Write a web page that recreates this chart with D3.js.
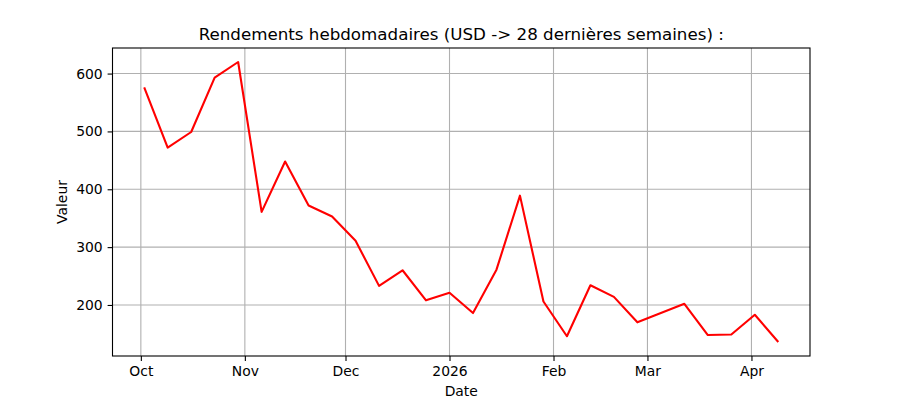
<!DOCTYPE html>
<html>
<head>
<meta charset="utf-8">
<script src="https://cdn.jsdelivr.net/npm/d3@7"></script>
<style>
  body { margin: 0; background: #fff; }
  svg { display: block; font-family: "DejaVu Sans", sans-serif; }
</style>
</head>
<body>
<svg id="chart" width="900" height="400"></svg>
<script>
const dates = ["2025-10-02","2025-10-09","2025-10-16","2025-10-23","2025-10-30",
  "2025-11-06","2025-11-13","2025-11-20","2025-11-27","2025-12-04","2025-12-11",
  "2025-12-18","2025-12-25","2026-01-01","2026-01-08","2026-01-15","2026-01-22",
  "2026-01-29","2026-02-05","2026-02-12","2026-02-19","2026-02-26","2026-03-05",
  "2026-03-12","2026-03-19","2026-03-26","2026-04-02","2026-04-09"];
const values = [576, 472, 499, 593, 620, 361, 448, 372, 353, 311, 233, 260, 208, 221,
  186, 261, 389, 206, 146, 234, 214, 170, 186, 202, 148, 149, 183, 136];
const xTickDates = ["2025-10-01","2025-11-01","2025-12-01","2026-01-01","2026-02-01","2026-03-01","2026-04-01"];
const xTickLabels = ["Oct","Nov","Dec","2026","Feb","Mar","Apr"];
const yTicks = [200, 300, 400, 500, 600];
const title = "Rendements hebdomadaires (USD -> 28 dernières semaines) :";
const xLabel = "Date";
const yLabel = "Valeur";

const parse = d3.utcParse("%Y-%m-%d");
const data = dates.map((d, i) => ({ date: parse(d), value: values[i] }));

const svg = d3.select("#chart");
const L = 112.5, R = 810, T = 48, B = 356;

const [dmin, dmax] = d3.extent(data, d => d.date);
const span = dmax - dmin;
const x = d3.scaleUtc()
  .domain([new Date(+dmin - span * 0.05), new Date(+dmax + span * 0.05)])
  .range([L, R]);
const [vmin, vmax] = d3.extent(values);
const vr = vmax - vmin;
const y = d3.scaleLinear()
  .domain([vmin - vr * 0.05, vmax + vr * 0.05])
  .range([B, T]);

const xTicks = xTickDates.map(parse);

// grid
const grid = svg.append("g");
grid.selectAll(".gx").data(xTicks).enter().append("line")
  .attr("x1", d => x(d)).attr("x2", d => x(d)).attr("y1", T).attr("y2", B)
  .attr("stroke", "#b0b0b0").attr("stroke-width", 1.1);
grid.selectAll(".gy").data(yTicks).enter().append("line")
  .attr("x1", L).attr("x2", R).attr("y1", d => y(d)).attr("y2", d => y(d))
  .attr("stroke", "#b0b0b0").attr("stroke-width", 1.1);

// line
svg.append("path").datum(data)
  .attr("fill", "none").attr("stroke", "#ff0000").attr("stroke-width", 2.1)
  .attr("stroke-linejoin", "round")
  .attr("d", d3.line().x(d => x(d.date)).y(d => y(d.value)));

// axes
const xAxis = d3.axisBottom(x).tickValues(xTicks)
  .tickFormat((d, i) => xTickLabels[i]).tickSize(4.9).tickPadding(4.9);
const gx = svg.append("g").attr("transform", `translate(0,${B})`).call(xAxis);
const yAxis = d3.axisLeft(y).tickValues(yTicks).tickSize(4.9).tickPadding(4.9);
const gy = svg.append("g").attr("transform", `translate(${L},0)`).call(yAxis);
[gx, gy].forEach(g => {
  g.select(".domain").remove();
  g.selectAll(".tick line").attr("stroke", "#000").attr("stroke-width", 1.1);
  g.selectAll(".tick text").attr("fill", "#000")
    .style("font-family", "'DejaVu Sans', sans-serif").style("font-size", "13.9px");
});

// frame
svg.append("rect").attr("x", L).attr("y", T).attr("width", R - L).attr("height", B - T)
  .attr("fill", "none").attr("stroke", "#000").attr("stroke-width", 1.1);

// labels
svg.append("text").attr("x", (L + R) / 2).attr("y", 40).attr("text-anchor", "middle")
  .style("font-size", "16.7px").text(title);
svg.append("text").attr("x", (L + R) / 2).attr("y", 396).attr("text-anchor", "middle")
  .style("font-size", "13.9px").text(xLabel);
svg.append("text").attr("transform", `translate(67,${(T + B) / 2}) rotate(-90)`)
  .attr("text-anchor", "middle").style("font-size", "13.9px").text(yLabel);
</script>
</body>
</html>
